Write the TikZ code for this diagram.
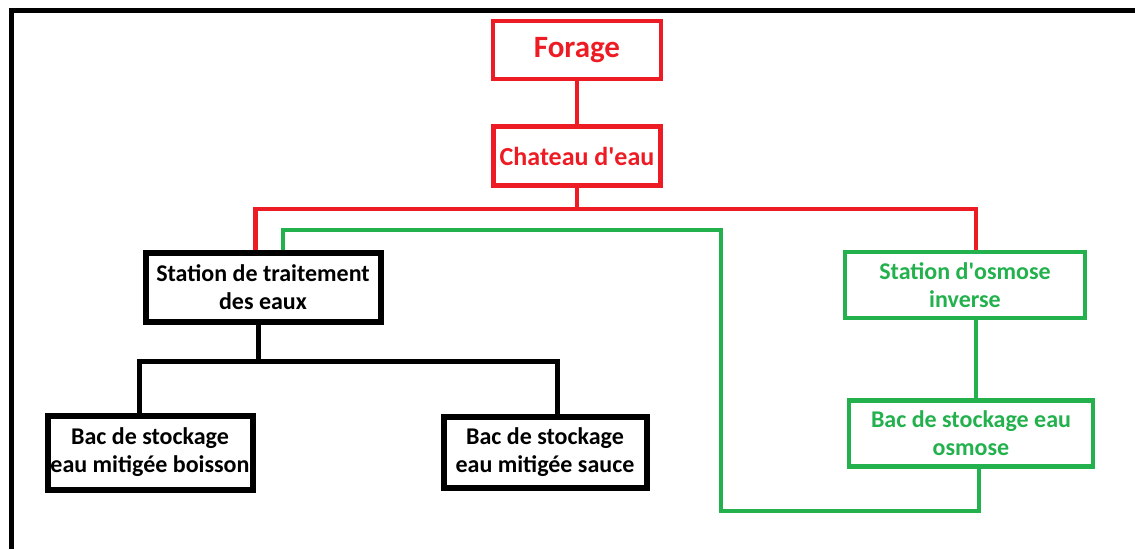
\documentclass[tikz,border=0pt]{standalone}
\usepackage{fontspec}
\setmainfont{Carlito}
\usetikzlibrary{positioning,calc}
\definecolor{pred}{HTML}{ED1C24}
\definecolor{pgreen}{HTML}{22B14C}

\begin{document}
\begin{tikzpicture}[x=1pt,y=-1pt,font=\fontsize{24}{28}\bfseries,
   box/.style={draw,rectangle,align=center,inner sep=2pt},
   rbox/.style={box,draw=pred,text=pred,line width=4.5pt},
   gbox/.style={box,draw=pgreen,text=pgreen,line width=4.5pt},
   kbox/.style={box,draw=black,line width=6pt},
   rw/.style={draw=pred,line width=4.5pt},
   gw/.style={draw=pgreen,line width=4.5pt},
   kw/.style={draw=black,line width=5pt}]
  \useasboundingbox (0,0) rectangle (1135,549);
  % frame
  \draw[line width=5pt] (11.5,549) -- (11.5,10.5) -- (1135,10.5);

  % supply line
  \node[rbox,minimum width=168pt,minimum height=58pt,font=\fontsize{31}{34}\bfseries] (forage) at (577,50) {Forage};
  \node[rbox,minimum width=167pt,minimum height=59pt,font=\fontsize{26}{30}\bfseries,below=43pt of forage] (chateau) {Chateau d\textquotesingle eau};

  % treatment branch
  \node[kbox,minimum width=235pt,minimum height=69pt] (trait) at (263,287) {Station de traitement\\des eaux};
  \node[kbox,minimum width=205pt,minimum height=74pt] (boisson) at (150,452.5) {Bac de stockage\\eau mitigée boisson};
  \node[kbox,minimum width=203pt,minimum height=71pt] (sauce) at (545,452) {Bac de stockage\\eau mitigée sauce};

  % osmosis branch
  \node[gbox,minimum width=240pt,minimum height=66pt] (osmo) at (965,285) {Station d\textquotesingle osmose\\inverse};
  \node[gbox,minimum width=244pt,minimum height=66pt,below=78pt of osmo,xshift=6pt] (bacosm) {Bac de stockage eau\\osmose};

  \coordinate (rbus) at (579,209);
  \coordinate (gtop) at (721,230);
  \coordinate (gbot) at (721,511);

  \draw[rw] (forage.south) -- (chateau.north);
  \draw[rw] (chateau.south) -- (chateau.south |- rbus);
  \draw[rw] ([xshift=-7.5pt]trait.north) |- (rbus) -| ([xshift=11pt]osmo.north);

  \draw[kw] ([xshift=-5pt]trait.south) -- ++(0,36.5) coordinate (kbus);
  \draw[kw] ([xshift=-11pt]boisson.north) |- (kbus) -| ([xshift=12pt]sauce.north);

  \draw[gw] ([xshift=11pt]osmo.south) -- ([xshift=11pt]osmo.south |- bacosm.north);
  \draw[gw] ([xshift=20pt]trait.north) |- (gtop) -- (gbot) -| ([xshift=8pt]bacosm.south);
\end{tikzpicture}
\end{document}
